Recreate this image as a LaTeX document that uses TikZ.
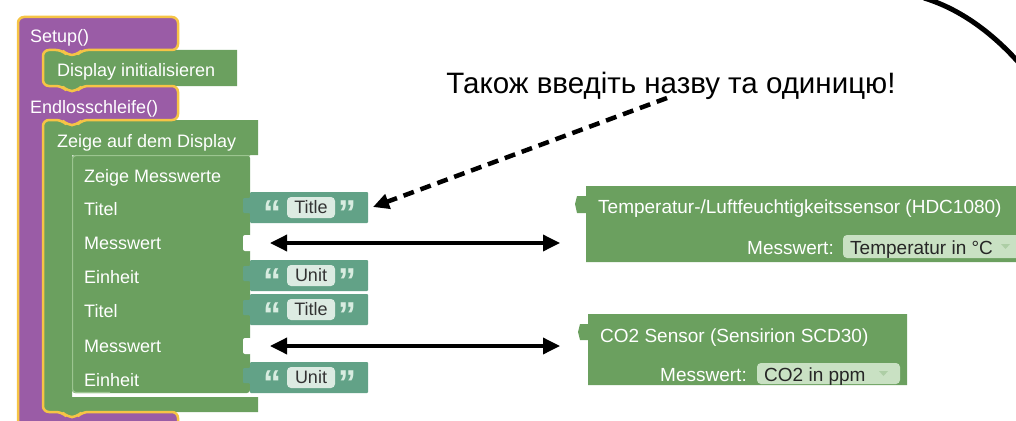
\documentclass[tikz,border=0pt]{standalone}
\usepackage{fontspec}
\setmainfont{Liberation Sans}
\usetikzlibrary{arrows.meta}
\definecolor{procpurple}{HTML}{9A5CA6}
\definecolor{selyellow}{HTML}{F6C445}
\definecolor{blockgreen}{HTML}{6BA05F}
\definecolor{rimgreen}{HTML}{9CC590}
\definecolor{strteal}{HTML}{62A287}
\definecolor{fieldmint}{HTML}{DCEBE2}
\definecolor{dropmint}{HTML}{C9E1C3}
\definecolor{quotemint}{HTML}{D8ECE0}

\begin{document}
\begin{tikzpicture}[x=1pt,y=-1pt,
        blocktext/.style={anchor=base west, inner sep=0pt, text=white, font=\fontsize{18}{20}\selectfont},
        sensortext/.style={anchor=base west, inner sep=0pt, text=white, font=\fontsize{19}{21}\selectfont},
        dropword/.style={anchor=base west, inner sep=0pt, text=black!85, font=\fontsize{19}{21}\selectfont},
        strfield/.style={fill=fieldmint, rounded corners=4pt, text=black!80, inner sep=0pt,
            minimum width=48pt, minimum height=21pt, font=\fontsize{18}{20}\selectfont},
        quotemark/.style={inner sep=0pt, text=quotemint, font=\fontsize{36}{36}\selectfont\bfseries},
        notetext/.style={anchor=base, inner sep=0pt, font=\fontsize{29.5}{32}\selectfont},
        bothway/.style={{Triangle[length=17pt,width=16pt]}-{Triangle[length=17pt,width=16pt]}, line width=3.5pt},
        hintarrow/.style={-{Triangle[length=16pt,width=15pt]}, line width=4.5pt, dash pattern=on 11pt off 7pt}]
    \useasboundingbox (0,0) rectangle (1016,420);
    \clip (0,0) rectangle (1016,420);

    % green statement blocks
    \fill[blockgreen] (43,50) -- (62,50) -- (67,55) -- (77,55) -- (82,50) -- (237,50) -- (237,86)
        -- (82,86) -- (77,91) -- (67,91) -- (62,86) -- (43,86) -- cycle;
    \fill[blockgreen] (43,120) -- (62,120) -- (67,125) -- (77,125) -- (82,120) -- (258,120) -- (258,155)
        -- (72,155) -- (72,397) -- (258,397) -- (258,412) -- (82,412) -- (77,417) -- (67,417) -- (62,412)
        -- (43,412) -- cycle;
    \fill[blockgreen, rounded corners=3pt] (72,155) -- (250,155) -- (250,393) -- (72,393) -- cycle;
    \draw[rimgreen, line width=1.2pt, rounded corners=3pt] (250,155.6) -- (72.6,155.6) -- (72.6,392.4) -- (110,392.4);

    % purple procedure block with selection outline
    \filldraw[fill=procpurple, draw=selyellow, line width=2.5pt, rounded corners=6pt]
        (18,17) -- (178,17) -- (178,50) -- (82,50) -- (77,55) -- (67,55) -- (62,50) -- (43,50)
        -- (43,86) -- (62,86) -- (67,91) -- (77,91) -- (82,86) -- (178,86) -- (178,120)
        -- (82,120) -- (77,125) -- (67,125) -- (62,120) -- (43,120) -- (43,412)
        -- (62,412) -- (67,417) -- (77,417) -- (82,412) -- (178,412) -- (178,445) -- (18,445) -- cycle;

    \node[blocktext] (setup) at (30,42) {Setup()};
    \node[blocktext] (dispinit) at (57,76) {Display initialisieren};
    \node[blocktext] (loop) at (30,113) {Endlosschleife()};
    \node[blocktext] (zeige) at (57,147) {Zeige auf dem Display};
    \node[blocktext] (messwerte) at (84,182) {Zeige Messwerte};

    % input rows
    \node[blocktext] (titel1) at (84,215) {Titel};
    \node[blocktext] (messwert1) at (84,249) {Messwert};
    \node[blocktext] (einheit1) at (84,283) {Einheit};
    \node[blocktext] (titel2) at (84,317) {Titel};
    \node[blocktext] (messwert2) at (84,352) {Messwert};
    \node[blocktext] (einheit2) at (84,386) {Einheit};

    % empty sockets
    \fill[white, rounded corners=2pt] (243,235) rectangle (252,251);
    \fill[white, rounded corners=2pt] (243,338) rectangle (252,354);

    % text blocks
    \foreach \ty/\word/\nm in {192/Title/titleA, 260/Unit/unitA, 294/Title/titleB, 362/Unit/unitB} {
        \fill[strteal, rounded corners=1pt] (250,\ty) -- (368,\ty) -- (368,\ty+31) -- (250,\ty+31)
            -- (250,\ty+21) -- (243,\ty+21) -- (243,\ty+6) -- (250,\ty+6) -- cycle;
        \node[quotemark] (\nm-open) at (272,\ty+21) {“};
        \node[strfield] (\nm) at (311,\ty+15.5) {\word};
        \node[quotemark] (\nm-close) at (347,\ty+21) {”};
    }

    % sensor blocks
    \fill[blockgreen] (586,186) -- (1030,186) -- (1030,262) -- (586,262) -- (586,213)
        -- (577,213) -- (575,204) -- (577,196) -- (586,196) -- cycle;
    \node[sensortext] (hdc) at (598,213) {Temperatur-/Luftfeuchtigkeitssensor (HDC1080)};
    \node[sensortext, anchor=base east] (hdclabel) at (834,254) {Messwert:};
    \fill[dropmint, rounded corners=4pt] (843,235) rectangle (1030,258);
    \node[dropword] (hdcval) at (850,254) {Temperatur in °C};
    \fill[dropmint!70!blockgreen] (1001,244) -- (1010,244) -- (1005.5,249) -- cycle;

    \fill[blockgreen] (588,314) -- (907,314) -- (907,385) -- (588,385) -- (588,340)
        -- (580,340) -- (578,332) -- (580,324) -- (588,324) -- cycle;
    \node[sensortext] (co2) at (600,342) {CO2 Sensor (Sensirion SCD30)};
    \node[sensortext, anchor=base east] (co2label) at (747,381) {Messwert:};
    \fill[dropmint, rounded corners=4pt] (757,363) rectangle (900,384);
    \node[dropword] (co2val) at (764,381) {CO2 in ppm};
    \fill[dropmint!70!blockgreen] (879,371) -- (888,371) -- (883.5,376) -- cycle;

    % connectors
    \coordinate (sockA) at (270,243);
    \coordinate (hdcin) at (560,243);
    \coordinate (sockB) at (270,346);
    \coordinate (co2in) at (560,346);
    \draw[bothway] (sockA) -- (hdcin);
    \draw[bothway] (sockB) -- (co2in);

    \node[notetext] (note) at (671,93) {Також введіть назву та одиницю!};
    \coordinate (notefoot) at (667,98);
    \coordinate (titletip) at (373,207);
    \draw[hintarrow] (notefoot) -- (titletip);

    % bubble edge
    \draw[line width=5pt] (924,-2) .. controls (957,8) and (990,30) .. (1020,64);
\end{tikzpicture}
\end{document}
